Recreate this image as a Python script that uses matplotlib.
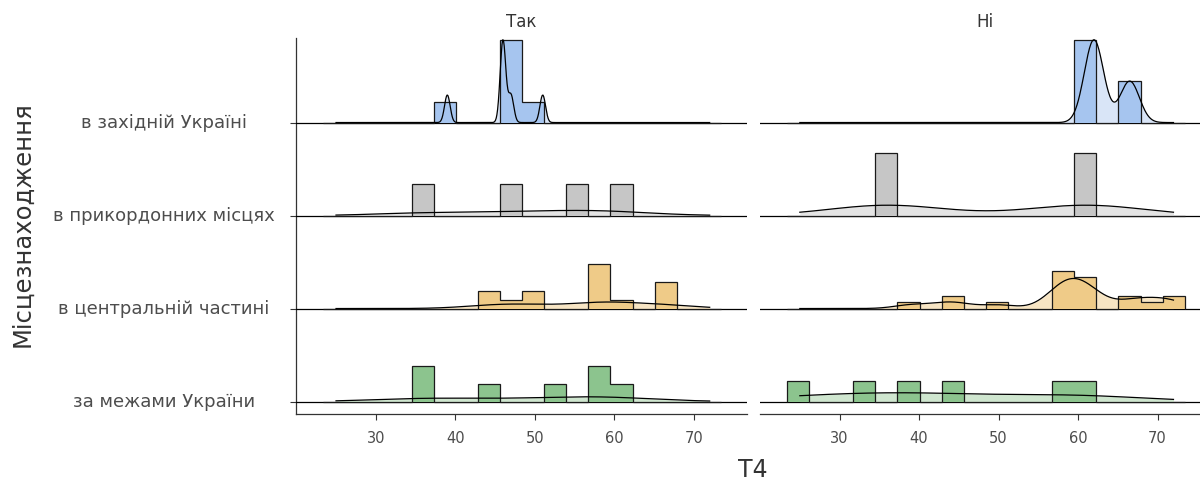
import numpy as np
import matplotlib
matplotlib.use("Agg")
import matplotlib.pyplot as plt
from matplotlib.transforms import blended_transform_factory

# T4 values by location, for each answer group
tak_west = [39, 46, 46, 46, 47, 51]
tak_border = [36, 47, 55, 60]
tak_central = [44, 45, 47, 49, 50, 57, 58, 58, 59, 59, 61, 66, 66, 67]
tak_abroad = [35, 36, 44, 52, 57, 58, 61]

ni_west = [62, 62, 66.5]
ni_border = [36, 61]
ni_central = [39, 43, 45, 50, 56.9, 57.5, 58, 58.5, 59, 59.4, 59.8, 60.4, 61, 61.6, 62.2,
              66, 67.5, 69, 71, 72]
ni_abroad = [25, 33, 39, 44, 58, 61]

locations = ["за межами України", "в центральній частині", "в прикордонних місцях", "в західній Україні"]
panels = ["Так", "Ні"]

BIN_START = 23.38
BIN_WIDTH = 2.78
N_BINS = 18

hist_colors = ["#8cc48e", "#efcb88", "#c6c6c6", "#a6c5ef"]
dens_colors = ["#cfe6cf", "#f7e5c4", "#e4e4e4", "#d9e5f7"]

data = {
    "Так": [tak_abroad, tak_central, tak_border, tak_west],
    "Ні": [ni_abroad, ni_central, ni_border, ni_west],
}

all_vals = np.concatenate([np.asarray(v, float) for p in panels for v in data[p]])
grid = np.linspace(all_vals.min(), all_vals.max(), 512)
edges = BIN_START + BIN_WIDTH * np.arange(N_BINS + 1)


def bw_nrd0(x):
    x = np.asarray(x, float)
    sd = x.std(ddof=1)
    q75, q25 = np.percentile(x, [75, 25])
    lo = min(sd, (q75 - q25) / 1.34)
    if lo <= 0:
        lo = sd if sd > 0 else 1.0
    return 0.9 * lo * len(x) ** -0.2


def kde(x):
    x = np.asarray(x, float)
    h = bw_nrd0(x)
    z = (grid[:, None] - x[None, :]) / h
    return np.exp(-0.5 * z ** 2).sum(axis=1) / (len(x) * h * np.sqrt(2 * np.pi))


W, H = 1200, 482
fig = plt.figure(figsize=(W / 100, H / 100), dpi=100)

px_left = [295.8, 759.6]
ax_w = 451
top_px, bot_px = 38, 414
xlim = (19.94, 76.67)
ylim = (-0.134, 3.909)
SCALE = 0.89
TEXT = "#4d4d4d"

axes = []
for pi, panel in enumerate(panels):
    ax = fig.add_axes([px_left[pi] / W, (H - bot_px) / H, ax_w / W, (bot_px - top_px) / H])
    axes.append(ax)
    groups = data[panel]
    hists = []
    denss = []
    for vals in groups:
        counts, _ = np.histogram(vals, bins=edges)
        hists.append(counts / (len(vals) * BIN_WIDTH))
        denss.append(kde(vals))
    hmax = max(h.max() for h in hists)
    dmax = max(d.max() for d in denss)

    # draw top rows first so lower ridges sit over them
    for gi in reversed(range(len(groups))):
        base = gi
        z = 10 - gi
        hh = hists[gi] / hmax * SCALE
        dd = denss[gi] / dmax * SCALE
        ax.axhline(base, color="black", lw=0.9, zorder=z)
        ax.fill_between(grid, base, base + dd, color=dens_colors[gi], lw=0, zorder=z)
        ax.stairs(base + hh, edges, baseline=base, fill=True, color=hist_colors[gi], lw=0, zorder=z + 0.1)
        ax.stairs(base + hh, edges, baseline=base, fill=False, color="#1a1a1a", lw=0.9, zorder=z + 0.2)
        ax.plot(grid, base + dd, color="black", lw=0.9, zorder=z + 0.3)

    ax.set_xlim(*xlim)
    ax.set_ylim(*ylim)
    ax.set_xticks([30, 40, 50, 60, 70])
    ax.tick_params(axis="x", length=4, width=0.8, color="#333333", pad=8,
                   labelsize=10.5, labelcolor=TEXT)
    for s in ["top", "right"]:
        ax.spines[s].set_visible(False)
    ax.spines["bottom"].set_color("#333333")
    ax.spines["bottom"].set_linewidth(0.9)
    if pi == 0:
        ax.spines["left"].set_color("#333333")
        ax.spines["left"].set_linewidth(0.9)
        ax.set_yticks(range(len(locations)))
        ax.set_yticklabels([])
        ax.tick_params(axis="y", length=4, width=0.8, color="#333333")
        tr = blended_transform_factory(fig.transFigure, ax.transData)
        for i, name in enumerate(locations):
            ax.text(164 / W, i, name, transform=tr, ha="center", va="center",
                    fontsize=13, color=TEXT)
    else:
        ax.spines["left"].set_visible(False)
        ax.set_yticks([])
    fig.text((px_left[pi] + ax_w / 2) / W, (H - 22) / H, panel, ha="center", va="center",
             fontsize=12, color="#333333")

fig.text(22 / W, (H - 224) / H, "Місцезнаходження", rotation=90, ha="center", va="center",
         fontsize=17.5, color="#333333")
fig.text(753 / W, (H - 470) / H, "T4", ha="center", va="center", fontsize=17, color="#333333")

fig.savefig("out.png", dpi=100)
